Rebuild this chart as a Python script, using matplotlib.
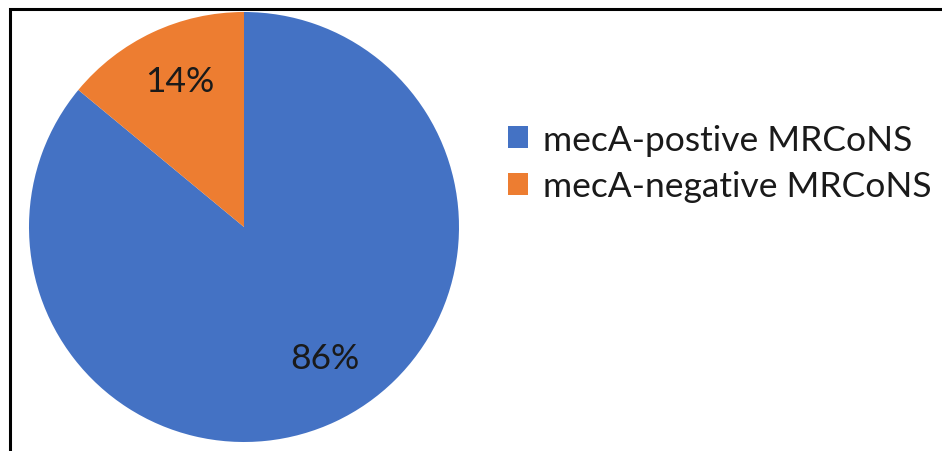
import matplotlib

matplotlib.use("Agg")
import matplotlib.pyplot as plt
from matplotlib.lines import Line2D
from matplotlib.patches import Patch

labels = ["mecA-postive MRCoNS", "mecA-negative MRCoNS"]
shares = [86, 14]
colours = ["#4472C4", "#ED7D31"]
# where each percentage sits, in units of the pie radius
label_xy = [(0.377, -0.609), (-0.298, 0.679)]

plt.rcParams["font.family"] = ["Lato", "DejaVu Sans"]

W, H = 942, 452
fig = plt.figure(figsize=(W / 100, H / 100), dpi=100)

# pie centred at (244, 228) px with radius 215 px
cx, cy, r = 244, 228, 215
ax = fig.add_axes([(cx - r) / W, (H - cy - r) / H, 2 * r / W, 2 * r / H])
wedges, texts, autotexts = ax.pie(
    shares, colors=colours, startangle=90, counterclock=False,
    autopct="%d%%", textprops={"fontsize": 25.5, "color": "#1a1a1a"},
    wedgeprops={"linewidth": 0},
)
for t, xy in zip(autotexts, label_xy):
    t.set_position(xy)
ax.set_xlim(-1, 1)
ax.set_ylim(-1, 1)
ax.set_aspect("equal")

handles = [Patch(facecolor=c, edgecolor="none") for c in colours]
fig.legend(
    handles, labels, loc="center left", bbox_to_anchor=(476 / W, 1 - 164 / H),
    frameon=False, fontsize=25.5, handlelength=0.58, handleheight=0.58,
    handletextpad=0.4, labelspacing=0.4, labelcolor="#1a1a1a",
)

# frame lines along top and left edges
fig.add_artist(Line2D([9.5 / W, 9.5 / W, 1], [0, 1 - 10 / H, 1 - 10 / H],
                      transform=fig.transFigure, color="black", linewidth=2.2,
                      solid_joinstyle="miter"))

fig.savefig("out.png", dpi=100)
